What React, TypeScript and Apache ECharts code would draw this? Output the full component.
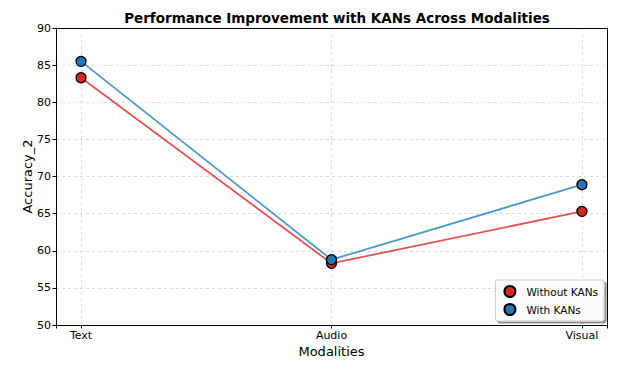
import React, { useEffect, useRef } from "react";
import * as echarts from "echarts";

const categories = ["Text", "Audio", "Visual"];
const withoutKANs = [83.3, 58.3, 65.3];
const withKANs = [85.5, 58.8, 68.9];
const yTicks = [50, 55, 60, 65, 70, 75, 80, 85, 90];

const FONT = "DejaVu Sans";

export default function App() {
  const ref = useRef<HTMLDivElement>(null);
  useEffect(() => {
    if (!ref.current) return;
    const chart = echarts.init(ref.current, undefined, { renderer: "svg" });
    const toPairs = (arr: number[]) => arr.map((v, i) => [i, v]);
    const marker = (color: string) => ({
      color,
      borderColor: "#000",
      borderWidth: 1.3,
    });
    const yMin = yTicks[0];
    const yMax = yTicks[yTicks.length - 1];
    const frameAxis = {
      axisLine: { show: true, onZero: false, lineStyle: { color: "#000", width: 1 } },
      axisTick: { show: false },
      axisLabel: { show: false },
      splitLine: { show: false },
    };
    chart.setOption({
      animation: false,
      backgroundColor: "#fff",
      textStyle: { fontFamily: FONT },
      title: {
        text: "Performance Improvement with KANs Across Modalities",
        left: 332,
        textAlign: "center",
        top: 6,
        textStyle: { fontFamily: FONT, fontSize: 13.5, fontWeight: "bold", color: "#000" },
      },
      grid: { left: 56, right: 29, top: 28, bottom: 42 },
      xAxis: [
        {
          type: "value",
          min: -0.1,
          max: 2.1,
          splitNumber: 2,
          name: "Modalities",
          nameLocation: "middle",
          nameGap: 20,
          nameMoveOverlap: false,
          nameTextStyle: { fontFamily: FONT, fontSize: 13, color: "#000" },
          axisLine: { show: true, onZero: false, lineStyle: { color: "#000" } },
          axisTick: { show: true, length: 3.5, lineStyle: { color: "#000" } },
          axisLabel: {
            fontFamily: FONT,
            fontSize: 11,
            color: "#000",
            margin: 5,
            formatter: (v: number) => {
              const r = Math.round(v);
              return Math.abs(v - r) < 1e-6 && categories[r] !== undefined ? categories[r] : "";
            },
          },
          splitLine: { show: true, lineStyle: { color: "#d0d0d0", type: [3, 3], width: 0.8 } },
        },
        { type: "value", position: "top", min: -0.1, max: 2.1, ...frameAxis },
      ],
      yAxis: [
        {
          type: "value",
          min: yMin,
          max: yMax,
          interval: 5,
          name: "Accuracy_2",
          nameLocation: "middle",
          nameGap: 22,
          nameMoveOverlap: false,
          nameTextStyle: { fontFamily: FONT, fontSize: 13, color: "#000" },
          axisLine: { show: true, onZero: false, lineStyle: { color: "#000" } },
          axisTick: { show: true, length: 3.5, lineStyle: { color: "#000" } },
          axisLabel: { fontFamily: FONT, fontSize: 11, color: "#000", margin: 5 },
          splitLine: { show: true, lineStyle: { color: "#d0d0d0", type: [3, 3], width: 0.8 } },
        },
        { type: "value", position: "right", min: yMin, max: yMax, ...frameAxis },
      ],
      legend: {
        right: 32,
        bottom: 46,
        orient: "vertical",
        backgroundColor: "rgba(255,255,255,0.95)",
        borderColor: "#ccc",
        borderWidth: 1,
        borderRadius: 2,
        padding: [5, 6, 5, 8],
        itemGap: 5,
        itemWidth: 11,
        itemHeight: 11,
        shadowColor: "rgba(0,0,0,0.45)",
        shadowBlur: 0,
        shadowOffsetX: 2,
        shadowOffsetY: 2,
        textStyle: { fontFamily: FONT, fontSize: 10.5, color: "#000", padding: [0, 0, 0, 6] },
        data: [
          { name: "Without KANs", icon: "circle" },
          { name: "With KANs", icon: "circle" },
        ],
      },
      series: [
        {
          name: "Without KANs",
          type: "line",
          data: toPairs(withoutKANs),
          symbol: "circle",
          symbolSize: 10,
          lineStyle: { color: "#e05555", width: 1.8 },
          itemStyle: marker("#d62728"),
          z: 3,
        },
        {
          name: "With KANs",
          type: "line",
          data: toPairs(withKANs),
          symbol: "circle",
          symbolSize: 10,
          lineStyle: { color: "#4c9acb", width: 1.8 },
          itemStyle: marker("#1f77b4"),
          z: 4,
        },
      ],
    });
    return () => chart.dispose();
  }, []);
  return <div ref={ref} style={{ width: 636, height: 367, position: "absolute", left: 0, top: 0 }} />;
}
